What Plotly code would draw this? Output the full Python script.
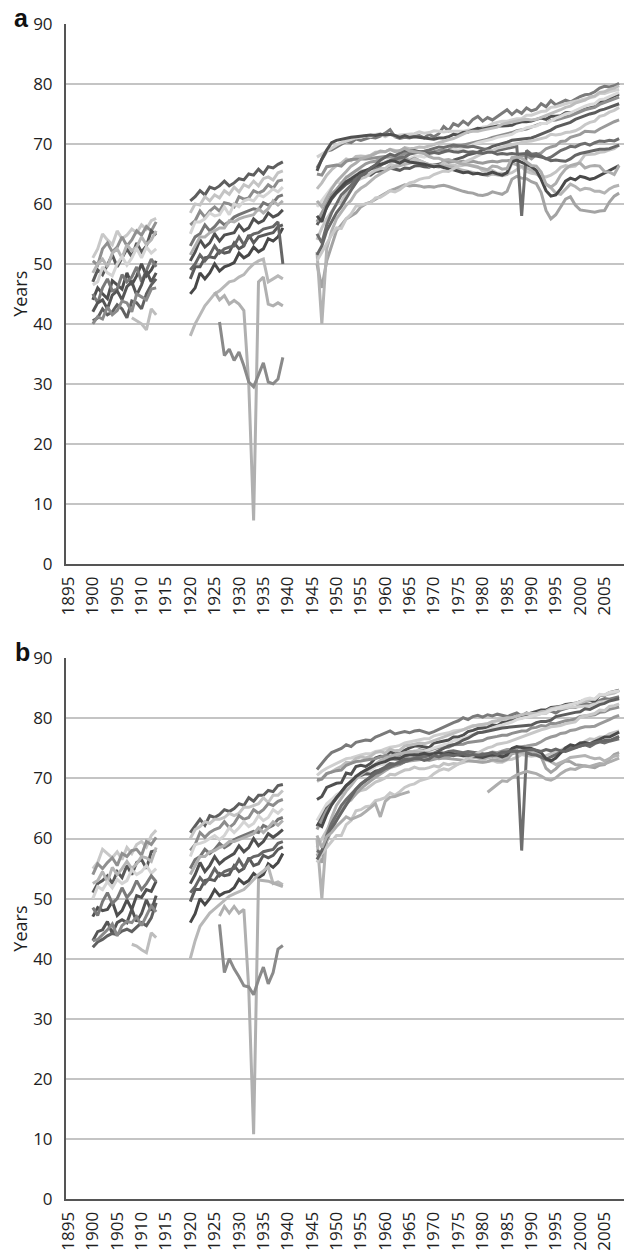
import plotly.graph_objects as go

N = None
years_1900s = list(range(1900, 1914))
years_1920s = list(range(1920, 1940))
years_postwar = list(range(1946, 2009))
tick_years = list(range(1895, 2006, 5))
y_ticks = list(range(0, 91, 10))

# ---------------- Panel a (males) / Panel b (females) ----------------
male_1900s = [
    [51.0, 52.5, 55.0, 54.0, 53.2, 55.5, 54.2, 54.8, 55.8, 55.2, 56.5, 55.8, 57.2, 57.6],
    [50.5, 49.8, 52.5, 53.5, 52.0, 52.8, 54.5, 53.0, 54.0, 55.5, 54.8, 56.2, 55.5, 57.0],
    [47.0, 49.0, 48.2, 50.0, 51.5, 49.5, 51.0, 52.5, 51.2, 53.5, 52.0, 53.0, 55.5, 54.8],
    [48.5, 50.0, 50.8, 49.5, 51.8, 52.5, 51.0, 53.2, 52.2, 52.8, 54.5, 53.2, 54.0, 55.5],
    [46.5, 47.0, 49.5, 48.5, 48.0, 50.0, 51.2, 49.8, 51.0, 52.6, 51.0, 52.8, 51.8, 52.5],
    [44.0, 46.0, 45.0, 44.2, 47.2, 46.5, 45.8, 48.5, 46.5, 48.0, 50.0, 48.0, 49.0, 50.5],
    [45.0, 43.5, 46.0, 47.5, 45.5, 45.8, 48.2, 47.0, 47.8, 49.5, 47.0, 48.8, 50.8, 49.5],
    [42.0, 43.5, 44.0, 42.5, 44.8, 45.5, 44.0, 46.2, 47.0, 44.8, 46.5, 48.8, 47.0, 48.5],
    [40.5, 41.0, 42.5, 41.5, 42.0, 43.2, 42.5, 41.0, 43.8, 43.5, 42.5, 45.0, 46.5, 47.5],
    [40.0, 41.2, 40.8, 42.8, 41.5, 42.2, 43.8, 43.5, 42.0, 45.0, 44.5, 44.0, 45.8, 46.0],
    [N, N, N, N, N, N, N, N, 41.0, 40.5, 40.0, 39.0, 42.5, 41.5],
]
female_1900s = [
    [55.0, 56.0, 58.2, 57.5, 56.8, 57.8, 56.5, 58.5, 57.5, 59.0, 59.5, 58.6, 60.5, 61.4],
    [54.0, 55.8, 55.0, 56.0, 56.8, 55.5, 57.5, 57.0, 58.0, 58.2, 57.2, 59.5, 59.0, 60.2],
    [51.0, 52.5, 53.0, 53.8, 52.5, 54.5, 53.5, 55.5, 54.0, 56.0, 56.5, 55.0, 57.8, 58.0],
    [52.5, 53.0, 54.5, 52.8, 55.2, 54.0, 55.0, 56.2, 55.0, 55.8, 57.0, 56.8, 56.2, 58.5],
    [50.0, 52.0, 51.5, 52.8, 51.8, 53.2, 52.5, 53.0, 54.8, 54.0, 54.5, 55.5, 54.2, 55.0],
    [47.0, 48.5, 48.0, 48.2, 49.5, 47.2, 48.0, 49.8, 48.2, 50.5, 50.2, 51.5, 51.2, 52.9],
    [48.5, 47.2, 49.5, 51.0, 49.2, 50.0, 51.8, 50.2, 51.2, 53.0, 51.5, 52.5, 53.8, 52.8],
    [43.0, 44.5, 44.8, 46.2, 44.2, 46.0, 46.5, 46.0, 48.2, 46.2, 47.5, 49.8, 48.0, 50.5],
    [41.9, 42.8, 43.2, 43.8, 44.2, 44.0, 44.6, 44.9, 44.5, 45.2, 46.0, 45.5, 46.8, 49.3],
    [43.0, 43.2, 44.0, 44.8, 45.8, 43.8, 45.5, 46.2, 46.0, 47.0, 45.5, 47.2, 48.8, 47.8],
    [N, N, N, N, N, N, N, N, 42.4, 42.1, 41.5, 41.0, 44.3, 43.5],
]
colors_1900s = ["#c8c8c8", "#909090", "#5a5a5a", "#b5b5b5", "#d4d4d4", "#4f4f4f",
                "#7a7a7a", "#555555", "#606060", "#8a8a8a", "#bdbdbd"]

male_1920s = [
    [60.5, 61.2, 62.2, 61.5, 62.8, 62.5, 63.0, 63.8, 63.0, 63.5, 64.2, 64.0, 65.0, 64.8, 65.8, 65.0, 66.2, 66.0, 66.6, 67.0],
    [58.5, 60.0, 59.8, 61.2, 60.5, 61.5, 61.0, 62.2, 61.6, 62.8, 62.0, 63.2, 62.8, 63.8, 63.0, 64.2, 64.5, 64.0, 65.2, 65.5],
    [56.5, 57.2, 58.8, 57.8, 58.8, 59.5, 58.8, 60.2, 60.0, 59.5, 61.2, 60.8, 61.0, 62.2, 61.8, 62.2, 63.2, 62.6, 63.8, 64.0],
    [55.0, 57.0, 57.0, 57.5, 58.5, 58.0, 58.2, 59.5, 58.2, 60.0, 59.5, 60.5, 60.8, 60.5, 61.5, 61.2, 61.8, 62.5, 62.0, 62.8],
    [50.5, 52.0, 54.0, 52.8, 53.5, 55.0, 53.8, 54.8, 55.0, 55.2, 56.5, 55.5, 56.0, 57.5, 56.8, 57.2, 58.5, 57.8, 58.2, 59.0],
    [53.0, 54.5, 55.0, 56.5, 55.5, 56.2, 57.2, 56.5, 57.0, 57.8, 58.2, 58.5, 58.8, 59.2, 59.0, 60.2, 59.8, 60.2, 61.2, 61.5],
    [51.5, 53.0, 54.5, 54.5, 55.2, 55.5, 56.0, 56.0, 57.2, 57.0, 57.5, 57.8, 58.0, 58.2, 59.2, 58.5, 59.2, 60.5, 59.8, 60.5],
    [47.5, 49.5, 49.5, 51.0, 51.2, 51.0, 52.2, 51.8, 52.0, 53.5, 52.5, 53.0, 54.8, 53.5, 54.5, 54.8, 55.0, 55.2, 56.2, 56.5],
    [45.0, 46.0, 48.5, 47.5, 48.5, 50.0, 48.8, 49.5, 49.8, 50.2, 51.8, 51.0, 51.5, 52.8, 52.0, 52.5, 54.2, 53.8, 54.5, 56.0],
    [49.0, 50.0, 51.5, 50.5, 51.5, 53.0, 51.8, 52.5, 52.8, 53.0, 54.5, 53.2, 54.5, 55.0, 55.2, 55.8, 56.0, 56.2, 57.0, 50.0],
    [38.0, 40.0, 41.5, 43.0, 44.0, 45.0, 45.5, 46.3, 47.0, 47.2, 47.8, 48.2, 49.2, 50.0, 50.5, 50.8, 47.0, 47.5, 48.0, 47.5],
    [N, N, N, N, N, 45.3, 44.0, 44.7, 43.3, 43.9, 43.3, 42.2, 30.0, 7.2, 47.0, 47.8, 43.3, 43.0, 43.5, 43.0],
    [N, N, N, N, N, N, 40.3, 34.7, 35.8, 33.9, 35.3, 33.0, 30.3, 29.5, 31.5, 33.5, 30.3, 30.0, 30.8, 34.4],
]
female_1920s = [
    [61.0, 62.2, 63.2, 62.2, 63.8, 63.5, 64.0, 64.8, 64.5, 65.0, 65.8, 65.5, 66.8, 66.2, 67.2, 67.2, 68.0, 67.8, 68.8, 69.0],
    [60.0, 61.5, 62.0, 62.8, 62.5, 63.2, 63.2, 63.5, 64.2, 63.8, 64.2, 65.2, 65.2, 65.5, 65.8, 66.8, 66.0, 67.2, 67.2, 68.0],
    [58.0, 59.0, 61.0, 60.2, 61.0, 61.5, 61.8, 62.8, 61.8, 62.5, 63.8, 63.2, 63.5, 64.8, 64.2, 64.8, 65.8, 65.5, 66.2, 66.5],
    [57.0, 59.0, 59.2, 59.5, 60.0, 60.5, 59.8, 60.5, 61.8, 61.0, 61.8, 62.8, 62.0, 62.5, 63.8, 63.0, 63.5, 64.8, 64.2, 65.0],
    [52.5, 54.0, 56.0, 54.5, 55.5, 57.0, 55.8, 56.5, 57.0, 57.5, 58.8, 57.8, 58.5, 60.0, 58.8, 59.5, 60.8, 60.2, 60.8, 61.5],
    [55.0, 56.5, 57.0, 58.2, 57.5, 58.2, 59.2, 58.5, 59.0, 59.8, 60.2, 60.5, 60.8, 61.2, 61.0, 62.2, 61.8, 62.2, 63.2, 63.5],
    [54.0, 55.5, 57.0, 57.0, 57.8, 58.0, 58.5, 58.8, 59.5, 59.5, 59.8, 60.2, 60.5, 60.8, 61.8, 61.0, 61.8, 62.8, 62.2, 63.0],
    [49.5, 51.5, 51.5, 53.0, 53.2, 53.0, 54.2, 53.8, 54.0, 55.5, 54.5, 55.0, 56.8, 55.5, 55.8, 57.2, 56.8, 57.2, 58.2, 58.6],
    [46.0, 47.5, 50.0, 49.0, 50.0, 51.5, 50.5, 51.0, 51.2, 51.8, 53.2, 52.5, 53.0, 54.2, 53.5, 54.0, 55.8, 55.2, 56.0, 57.5],
    [51.0, 52.0, 53.5, 52.5, 53.5, 55.0, 53.8, 54.5, 54.8, 55.0, 56.5, 55.2, 56.5, 57.0, 57.2, 57.8, 58.0, 58.2, 59.2, 59.5],
    [40.0, 43.0, 45.4, 46.5, 47.6, 48.3, 49.0, 49.7, 50.4, 50.8, 51.2, 51.5, 52.3, 53.1, 54.0, 54.6, 55.3, 52.5, 52.8, 52.3],
    [N, N, N, N, N, N, 47.1, 48.7, 47.6, 48.7, 47.6, 48.2, 35.0, 10.8, 53.1, 53.0, 52.9, 52.6, 52.3, 52.0],
    [N, N, N, N, N, N, 45.7, 37.7, 40.0, 38.3, 37.0, 35.5, 35.3, 34.0, 36.5, 38.6, 35.8, 37.7, 41.6, 42.2],
]
colors_1920s = ["#5e5e5e", "#c4c4c4", "#8c8c8c", "#d4d4d4", "#505050", "#757575", "#b0b0b0",
                "#5a5a5a", "#484848", "#666666", "#b8b8b8", "#b0b0b0", "#8a8a8a"]

male_postwar = [
    [66.0, 67.5, 68.8, 69.0, 69.5, 70.0, 70.4, 70.2, 70.8, 70.6,
     70.9, 71.1, 71.0, 71.3, 71.8, 72.4, 71.2, 70.9, 71.1, 71.0,
     71.3, 71.4, 71.0, 71.6, 71.2, 71.7, 72.9, 72.2, 73.4, 73.0,
     73.8, 73.2, 74.1, 74.6, 73.8, 74.4, 74.0, 74.6, 75.1, 75.7,
     74.9, 75.6, 75.1, 76.0, 75.5, 75.8, 76.7, 76.2, 77.2, 76.5,
     76.9, 77.3, 77.0, 77.5, 77.9, 78.2, 78.3, 78.7, 79.3, 79.6,
     79.5, 79.7, 80.1],
    [67.8, 68.3, 68.9, 69.4, 69.8, 70.2, 70.5, 70.7, 71.0, 71.2,
     71.4, 71.2, 71.6, 71.7, 71.2, 71.6, 71.3, 71.5, 71.6, 71.6,
     71.7, 72.0, 71.8, 71.9, 72.2, 72.1, 72.0, 72.1, 72.1, 72.1,
     72.1, 72.3, 72.4, 72.5, 72.8, 72.9, 73.4, 73.6, 73.8, 73.8,
     74.0, 74.2, 74.2, 74.8, 74.8, 75.1, 75.4, 75.5, 76.1, 76.2,
     76.5, 76.7, 76.9, 77.1, 77.4, 77.5, 77.7, 77.9, 78.4, 78.4,
     78.7, 78.9, 79.1],
    [65.5, 67.5, 69.0, 70.2, 70.6, 70.8, 71.0, 71.1, 71.2, 71.3,
     71.4, 71.5, 71.4, 71.6, 71.5, 71.6, 71.4, 71.1, 71.4, 71.1,
     71.2, 71.1, 71.0, 70.9, 70.8, 71.0, 71.0, 71.2, 71.6, 71.5,
     71.9, 72.0, 72.3, 72.6, 72.5, 72.7, 72.8, 73.0, 73.0, 73.1,
     73.1, 73.5, 73.7, 73.7, 73.8, 74.1, 74.3, 74.1, 74.6, 74.6,
     74.7, 75.2, 75.2, 75.3, 75.6, 75.8, 76.0, 76.2, 76.9, 77.2,
     77.6, 78.0, 78.3],
    [62.5, 63.5, 64.8, 65.7, 66.4, 66.8, 67.5, 67.2, 67.9, 68.0,
     67.9, 68.1, 68.6, 68.7, 68.7, 69.1, 68.9, 68.7, 69.4, 69.2,
     69.3, 69.5, 69.4, 69.6, 69.9, 70.2, 70.5, 70.7, 70.9, 71.3,
     71.6, 72.0, 72.1, 72.1, 72.3, 72.5, 72.7, 72.8, 73.3, 73.5,
     73.6, 73.9, 74.0, 74.1, 74.0, 74.1, 74.4, 74.8, 75.1, 75.3,
     75.7, 76.1, 76.3, 76.8, 77.0, 77.3, 77.8, 78.0, 78.6, 78.7,
     79.1, 79.3, 79.7],
    [65.0, 64.8, 66.2, 66.4, 66.5, 66.3, 67.1, 67.4, 67.5, 67.5,
     67.5, 67.6, 67.7, 67.9, 67.9, 67.8, 67.9, 67.9, 68.4, 68.5,
     68.5, 68.7, 68.6, 68.6, 68.7, 68.9, 69.0, 69.0, 69.4, 69.6,
     69.7, 70.0, 70.1, 70.3, 70.5, 70.8, 71.1, 71.3, 71.4, 71.6,
     71.9, 72.2, 72.3, 72.5, 72.8, 73.1, 73.4, 73.4, 73.9, 74.0,
     74.2, 74.5, 74.7, 75.0, 75.4, 75.7, 75.9, 76.1, 76.6, 76.9,
     77.2, 77.5, 77.8],
    [59.5, 60.6, 61.8, 62.7, 63.6, 63.5, 64.5, 64.4, 65.5, 65.7,
     65.4, 65.9, 66.5, 66.7, 67.0, 67.4, 67.2, 67.1, 67.7, 67.5,
     67.9, 68.0, 67.8, 68.1, 68.5, 68.5, 68.6, 68.8, 69.1, 69.0,
     69.2, 69.6, 69.9, 70.2, 70.4, 70.5, 70.8, 71.1, 71.3, 71.4,
     71.6, 72.1, 72.3, 72.7, 72.9, 73.0, 73.4, 73.4, 73.8, 74.3,
     74.6, 75.0, 75.2, 75.6, 75.9, 76.3, 76.6, 76.7, 77.4, 77.5,
     77.9, 78.3, 78.6],
    [56.5, 58.0, 59.5, 60.8, 61.8, 62.5, 63.3, 63.8, 64.2, 64.6,
     64.9, 64.8, 65.4, 65.5, 65.6, 66.0, 65.8, 65.6, 66.0, 65.9,
     66.3, 66.4, 66.2, 66.1, 66.5, 66.6, 66.9, 67.2, 67.3, 67.5,
     67.8, 68.2, 68.4, 68.6, 69.0, 69.2, 69.6, 69.8, 70.0, 70.3,
     70.6, 70.7, 70.9, 71.0, 71.0, 71.3, 71.6, 71.9, 72.3, 72.8,
     73.1, 73.3, 73.6, 74.1, 74.4, 74.8, 75.0, 75.2, 75.6, 75.8,
     76.1, 76.4, 76.7],
    [57.0, 58.5, 60.2, 61.6, 62.4, 63.5, 64.4, 65.0, 65.6, 66.1,
     66.7, 67.0, 67.1, 67.5, 67.8, 67.9, 67.5, 67.4, 67.6, 67.2,
     67.6, 67.2, 66.9, 66.6, 66.2, 66.4, 67.0, 66.9, 67.1, 67.0,
     67.1, 67.0, 67.1, 66.9, 66.8, 67.0, 67.1, 67.0, 67.2, 67.2,
     67.3, 67.8, 68.0, 68.1, 67.5, 68.2, 68.5, 69.2, 69.5, 69.7,
     70.4, 70.5, 71.1, 71.4, 71.6, 72.1, 72.1, 72.0, 72.5, 72.9,
     73.4, 73.7, 74.0],
    [54.0, 56.0, 57.5, 58.8, 59.9, 60.3, 62.0, 62.4, 63.8, 64.2,
     64.5, 65.1, 65.6, 65.9, 65.9, 66.6, 66.4, 66.8, 67.1, 67.0,
     67.5, 67.2, 66.9, 66.3, 66.3, 66.1, 66.9, 66.4, 66.5, 66.3,
     66.5, 66.6, 66.4, 66.2, 65.5, 65.4, 65.6, 65.1, 65.1, 65.0,
     65.2, 65.7, 66.2, 65.4, 65.1, 65.0, 64.6, 64.5, 64.8, 65.3,
     66.1, 66.4, 66.2, 66.3, 67.1, 68.2, 68.3, 68.3, 68.6, 68.7,
     69.0, 69.2, 69.8],
    [50.0, 46.0, 50.5, 53.0, 55.5, 56.5, 57.5, 58.0, 58.5, 59.5,
     60.0, 60.3, 60.8, 61.3, 61.8, 62.2, 62.5, 62.8, 63.2, 63.0,
     63.1, 63.0, 62.8, 62.9, 62.8, 63.0, 63.1, 62.9, 62.6, 62.3,
     62.1, 61.9, 61.8, 61.5, 61.4, 61.6, 62.0, 61.8, 61.6, 62.1,
     64.1, 64.6, 64.3, 64.2, 63.7, 63.4, 61.9, 58.9, 57.5, 58.2,
     59.6, 60.8, 61.2, 59.8, 59.0, 58.9, 58.8, 58.6, 58.8, 58.9,
     60.3, 61.3, 61.8],
    [52.0, 40.0, 52.5, 55.5, 57.5, 58.7, 59.8, 60.6, 61.9, 62.6,
     63.1, 63.8, 64.5, 65.0, 65.5, 65.9, 66.2, 66.4, 66.7, 66.9,
     67.0, 66.8, 66.7, 66.6, 66.5, 66.4, 66.4, 66.2, 66.1, 65.8,
     65.6, 65.5, 65.3, 65.1, 64.8, 64.7, 65.0, 64.8, 64.7, 64.9,
     66.8, 66.5, 66.3, 66.0, 65.6, 65.1, 64.3, 63.3, 62.7, 61.8,
     61.6, 62.4, 63.3, 62.9, 62.3, 62.6, 62.5, 62.1, 62.1, 61.8,
     62.5, 62.9, 63.1],
    [55.0, 53.5, 56.5, 58.5, 60.0, 61.5, 62.3, 63.1, 64.2, 64.8,
     65.3, 65.8, 66.1, 66.4, 66.9, 67.2, 67.5, 67.7, 67.8, 68.3,
     68.5, 68.6, 68.8, 69.0, 69.3, 69.5, 69.4, 69.6, 69.8, 69.7,
     69.6, 69.5, 69.6, 69.4, 69.2, 69.0, 68.8, 68.9, 69.1, 69.2,
     69.4, 69.6, 58.0, 68.9, 68.3, 68.4, 68.0, 67.5, 67.8, 68.4,
     68.9, 69.2, 69.6, 69.5, 69.9, 70.1, 69.8, 70.2, 70.5, 70.4,
     70.6, 70.5, 70.9],
    [58.0, 57.0, 59.5, 61.0, 62.0, 62.8, 63.7, 64.2, 64.8, 65.3,
     65.6, 65.9, 66.4, 66.6, 66.8, 67.2, 67.1, 66.8, 67.3, 67.0,
     66.9, 66.7, 66.6, 66.4, 66.2, 66.3, 66.0, 65.8, 65.7, 65.5,
     65.2, 65.3, 65.0, 65.1, 64.9, 65.0, 65.3, 65.0, 64.8, 65.2,
     67.0, 67.3, 66.9, 66.6, 66.2, 65.6, 64.1, 62.2, 61.3, 61.5,
     62.5, 63.8, 64.3, 64.0, 64.6, 64.4, 64.1, 64.3, 64.7, 65.2,
     65.5, 65.9, 66.4],
    [50.5, 52.0, 53.5, 54.8, 56.0, 55.9, 57.5, 58.3, 59.6, 59.8,
     60.1, 60.2, 61.0, 61.1, 61.6, 62.2, 62.0, 62.4, 63.0, 63.5,
     63.7, 64.1, 64.3, 64.4, 64.9, 65.2, 65.5, 65.4, 65.8, 66.3,
     66.9, 67.2, 67.6, 68.0, 68.4, 68.8, 68.9, 69.3, 69.5, 69.7,
     69.9, 70.1, 70.3, 70.4, 70.5, 70.7, 70.8, 71.1, 71.6, 71.5,
     71.6, 71.9, 72.0, 72.2, 72.6, 73.2, 73.6, 73.8, 74.6, 74.8,
     75.3, 75.6, 76.1],
    [51.5, 53.0, 55.5, 57.0, 58.5, 59.6, 61.0, 62.3, 63.5, 64.7,
     65.2, 66.0, 66.5, 67.3, 67.8, 68.3, 68.0, 68.5, 68.9, 68.8,
     68.9, 68.7, 68.5, 68.4, 68.6, 68.4, 68.7, 68.9, 68.7, 68.6,
     68.8, 68.6, 68.7, 68.5, 68.4, 68.6, 68.6, 68.3, 68.4, 68.3,
     68.4, 68.3, 68.4, 68.4, 68.0, 68.0, 67.8, 67.6, 67.2, 67.3,
     67.2, 67.1, 67.5, 68.1, 68.4, 68.6, 68.8, 68.9, 69.1, 69.1,
     69.2, 69.5, 69.8],
    [60.5, 59.5, 61.0, 62.5, 63.7, 64.5, 65.4, 66.3, 66.8, 67.5,
     67.7, 68.0, 68.4, 68.8, 68.7, 69.1, 68.7, 68.9, 69.3, 68.8,
     68.7, 68.5, 68.4, 67.9, 67.6, 67.6, 67.3, 67.4, 67.1, 66.8,
     66.6, 66.5, 66.3, 66.0, 65.8, 65.7, 66.3, 66.2, 65.8, 65.9,
     67.7, 67.8, 67.6, 67.0, 66.4, 66.3, 65.3, 63.3, 62.8, 63.4,
     64.8, 65.8, 66.4, 66.6, 66.8, 66.0, 66.3, 66.4, 66.3, 65.4,
     65.3, 64.9, 66.4],
]

female_postwar = [
    [71.5, 72.5, 73.5, 74.3, 74.6, 75.0, 75.6, 75.3, 76.0, 76.2,
     76.4, 76.3, 76.9, 77.2, 77.5, 77.9, 77.4, 77.6, 77.8, 77.6,
     77.9, 78.0, 77.8, 77.5, 77.8, 78.2, 78.6, 79.0, 79.3, 79.6,
     80.1, 79.8, 80.3, 80.5, 80.2, 80.6, 80.4, 80.7, 80.5, 80.3,
     80.6, 80.9, 80.4, 80.9, 80.6, 80.9, 81.0, 81.3, 81.2, 80.9,
     81.4, 81.6, 81.9, 81.8, 82.1, 82.5, 82.3, 82.6, 83.0, 83.3,
     83.2, 83.4, 83.6],
    [70.5, 71.2, 71.7, 72.1, 72.5, 73.0, 73.3, 73.4, 73.7, 73.9,
     74.1, 74.1, 74.5, 74.6, 74.9, 75.2, 75.3, 75.5, 75.9, 76.1,
     76.2, 76.5, 76.6, 76.6, 77.1, 77.3, 77.4, 77.6, 77.9, 78.0,
     78.1, 78.5, 78.8, 78.8, 78.9, 79.1, 79.4, 79.6, 79.6, 79.7,
     80.0, 80.1, 80.0, 80.6, 80.4, 80.5, 80.8, 80.8, 81.4, 81.6,
     81.6, 81.8, 81.9, 81.9, 82.0, 82.1, 82.1, 82.4, 82.7, 82.8,
     82.9, 83.0, 83.2],
    [66.5, 67.0, 68.5, 68.9, 69.2, 69.3, 70.9, 70.7, 72.0, 72.2,
     72.0, 72.5, 73.4, 73.7, 73.6, 74.5, 74.1, 74.1, 74.7, 75.1,
     75.4, 75.4, 75.3, 75.1, 75.9, 76.1, 76.3, 76.4, 76.9, 76.9,
     77.2, 77.8, 78.0, 78.3, 78.4, 78.5, 78.9, 78.8, 79.3, 79.4,
     79.7, 80.3, 80.5, 80.6, 80.9, 81.1, 81.4, 81.4, 81.8, 81.9,
     82.0, 82.3, 82.4, 82.5, 82.8, 83.0, 83.0, 82.9, 83.8, 83.8,
     84.3, 84.5, 84.7],
    [69.5, 70.0, 70.8, 71.1, 71.6, 72.0, 72.7, 72.6, 73.3, 73.6,
     73.4, 73.7, 74.3, 74.5, 74.2, 74.9, 74.6, 74.7, 75.4, 75.5,
     75.7, 75.9, 75.8, 76.0, 76.3, 76.6, 76.9, 77.2, 77.5, 77.9,
     78.1, 78.5, 78.7, 78.9, 79.0, 79.1, 79.5, 79.6, 79.9, 80.1,
     80.1, 80.4, 80.6, 80.8, 80.8, 80.8, 81.1, 81.2, 81.6, 81.8,
     81.9, 82.1, 82.3, 82.5, 82.6, 82.9, 83.1, 83.2, 83.8, 83.9,
     84.1, 84.2, 84.6],
    [69.8, 69.9, 70.8, 71.1, 71.3, 71.4, 72.2, 72.5, 72.8, 72.9,
     73.1, 73.2, 73.3, 73.6, 73.8, 73.7, 73.9, 73.8, 74.3, 74.4,
     74.4, 74.8, 74.6, 74.7, 75.0, 75.2, 75.2, 75.2, 75.6, 75.7,
     75.7, 76.0, 76.1, 76.2, 76.3, 76.7, 76.8, 77.0, 77.2, 77.2,
     77.5, 77.7, 77.9, 77.9, 78.4, 78.5, 78.8, 78.7, 79.2, 79.1,
     79.4, 79.6, 79.7, 79.9, 80.3, 80.4, 80.5, 80.6, 81.0, 81.1,
     81.5, 81.7, 81.9],
    [63.0, 64.3, 65.8, 66.5, 67.3, 67.8, 68.9, 69.2, 70.5, 70.8,
     70.9, 71.4, 72.0, 72.3, 72.4, 73.3, 73.2, 73.3, 74.0, 74.0,
     74.6, 74.6, 74.5, 74.8, 75.1, 75.3, 75.6, 75.8, 76.3, 76.4,
     76.7, 77.1, 77.4, 77.6, 77.8, 78.1, 78.5, 78.7, 78.9, 79.1,
     79.4, 79.8, 80.0, 80.3, 80.4, 80.6, 80.9, 81.0, 81.4, 81.6,
     81.8, 82.0, 82.2, 82.5, 82.8, 83.2, 83.4, 83.2, 84.0, 83.9,
     84.3, 84.4, 84.6],
    [62.0, 63.5, 65.0, 65.8, 66.8, 67.6, 68.8, 69.4, 70.3, 70.5,
     70.8, 70.7, 71.2, 71.4, 71.7, 72.2, 72.2, 72.4, 72.8, 73.0,
     73.5, 73.6, 73.5, 73.8, 74.2, 74.6, 75.1, 75.4, 75.6, 75.9,
     76.4, 76.7, 77.2, 77.6, 77.7, 77.9, 78.0, 78.3, 78.4, 78.5,
     78.6, 78.6, 78.7, 78.9, 78.9, 79.3, 79.5, 79.5, 79.7, 80.3,
     80.5, 80.7, 80.8, 81.0, 81.1, 81.6, 81.5, 81.9, 82.3, 82.5,
     82.9, 83.1, 83.3],
    [61.5, 63.0, 64.7, 65.7, 66.6, 67.6, 68.7, 69.6, 70.2, 70.9,
     71.4, 71.8, 72.3, 72.7, 73.1, 73.3, 73.1, 73.0, 73.6, 73.3,
     73.5, 73.4, 73.2, 73.0, 73.2, 73.4, 73.8, 73.6, 74.0, 74.1,
     74.2, 74.1, 74.3, 74.1, 73.9, 74.1, 74.4, 74.3, 74.6, 74.8,
     74.8, 75.1, 75.3, 75.4, 75.5, 75.7, 76.1, 76.6, 76.9, 77.1,
     77.5, 77.6, 78.0, 78.1, 78.4, 78.6, 78.6, 78.7, 79.1, 79.4,
     79.8, 80.2, 80.5],
    [58.5, 60.0, 61.5, 62.8, 64.0, 64.5, 66.0, 66.4, 67.6, 68.0,
     68.2, 68.8, 69.4, 69.7, 70.1, 70.7, 70.6, 71.0, 71.4, 71.5,
     71.9, 71.6, 71.6, 71.8, 72.1, 71.9, 72.5, 72.3, 72.5, 72.4,
     72.6, 72.9, 72.9, 72.8, 72.7, 72.8, 73.0, 72.7, 72.7, 73.1,
     73.2, 73.5, 74.0, 73.8, 73.7, 73.8, 73.7, 73.8, 74.2, 74.5,
     74.7, 75.1, 75.2, 75.2, 75.6, 76.2, 76.6, 76.5, 76.9, 76.9,
     77.4, 77.6, 77.9],
    [57.5, 56.0, 59.5, 61.5, 63.0, 64.5, 65.7, 66.5, 67.4, 68.3,
     69.0, 69.6, 70.2, 70.8, 71.3, 71.8, 72.1, 72.3, 72.8, 72.9,
     73.1, 73.2, 73.3, 73.4, 73.4, 73.3, 73.4, 73.3, 73.2, 73.1,
     73.0, 73.0, 72.9, 72.8, 72.7, 72.8, 73.1, 73.0, 72.9, 73.2,
     74.1, 74.3, 74.4, 74.2, 74.2, 74.1, 73.6, 71.7, 71.0, 71.6,
     72.4, 72.9, 72.8, 72.3, 72.2, 72.1, 71.9, 71.8, 72.2, 72.3,
     73.2, 74.0, 74.3],
    [60.0, 50.0, 61.0, 63.5, 65.5, 66.8, 67.9, 68.8, 69.9, 70.6,
     71.2, 71.9, 72.5, 73.0, 73.4, 73.7, 73.9, 74.1, 74.3, 74.4,
     74.5, 74.4, 74.3, 74.3, 74.2, 74.3, 74.2, 74.1, 74.0, 73.8,
     73.7, 73.6, 73.5, 73.4, 73.2, 73.4, 73.6, 73.5, 73.4, 73.6,
     74.4, 74.3, 74.3, 74.2, 74.4, 74.1, 73.9, 73.1, 72.8, 72.3,
     72.6, 73.0, 73.5, 73.6, 73.6, 73.8, 73.5, 73.3, 73.4, 72.9,
     73.3, 73.7, 73.9],
    [58.0, 57.5, 60.5, 62.5, 64.0, 65.5, 66.5, 67.4, 68.3, 69.1,
     69.7, 70.2, 70.8, 71.1, 71.6, 71.9, 72.3, 72.5, 72.8, 73.1,
     73.3, 73.6, 73.7, 73.9, 74.1, 74.3, 74.2, 74.5, 74.6, 74.4,
     74.3, 74.5, 74.4, 74.2, 74.1, 74.0, 73.8, 74.0, 74.2, 74.3,
     74.5, 74.6, 58.0, 74.3, 74.0, 73.9, 73.6, 73.2, 73.6, 74.0,
     74.4, 74.8, 75.1, 75.2, 75.4, 75.6, 75.3, 75.8, 76.1, 75.9,
     76.2, 76.4, 76.6],
    [62.5, 62.0, 64.0, 65.6, 66.8, 67.8, 68.8, 69.5, 70.3, 70.9,
     71.4, 71.8, 72.3, 72.6, 72.8, 73.2, 73.4, 73.3, 73.8, 73.9,
     73.9, 74.0, 74.2, 74.0, 74.1, 74.3, 74.0, 74.2, 74.1, 74.0,
     73.8, 73.9, 73.7, 73.6, 73.5, 73.8, 74.0, 73.9, 73.6, 73.9,
     75.0, 75.3, 75.1, 75.0, 75.0, 74.7, 74.3, 73.3, 72.9, 73.4,
     74.3, 75.1, 75.6, 75.4, 75.9, 76.0, 75.8, 76.1, 76.5, 76.9,
     76.9, 77.3, 77.7],
    [56.0, 57.5, 58.5, 59.5, 60.5, 60.5, 62.3, 63.0, 64.6, 64.8,
     65.3, 65.4, 66.3, 66.5, 66.8, 67.6, 67.2, 67.8, 68.5, 68.9,
     69.1, 69.6, 69.8, 70.1, 70.8, 71.3, 71.6, 71.4, 71.9, 72.4,
     73.0, 73.4, 73.8, 74.3, 74.7, 75.1, 75.3, 75.7, 75.8, 76.0,
     76.3, 76.6, 76.9, 77.2, 77.6, 77.9, 78.1, 78.3, 78.6, 78.7,
     78.8, 79.1, 79.2, 79.4, 80.2, 80.4, 80.6, 80.8, 81.4, 81.3,
     82.0, 82.1, 82.4],
    [56.5, 58.0, 60.0, 61.7, 63.0, 64.3, 65.8, 67.0, 68.2, 69.0,
     69.6, 70.3, 70.9, 71.5, 71.9, 72.5, 72.4, 72.8, 73.2, 73.1,
     73.3, 73.3, 73.0, 73.2, 73.8, 73.6, 73.9, 74.0, 73.8, 74.0,
     74.1, 73.8, 74.0, 73.9, 73.9, 74.1, 74.3, 74.0, 74.4, 74.4,
     74.6, 74.5, 74.6, 74.7, 74.8, 74.7, 74.5, 74.8, 74.6, 74.9,
     74.6, 74.5, 74.8, 75.2, 75.4, 75.6, 75.8, 75.9, 76.2, 76.3,
     76.3, 76.7, 77.0],
    [60.5, 58.5, 60.3, 61.0, 62.0, 62.8, 63.6, 63.2, 63.6, 63.9,
     64.5, 65.1, 65.8, 63.6, 66.2, 66.9, 67.0, 67.3, 67.5, 67.8,
     N, N, N, N, N, N, N, N, N, N,
     N, N, N, N, N, 67.7, 68.4, 69.0, 69.6, 69.5,
     70.1, 70.6, 70.9, 71.2, 71.0, 70.8, 70.4, 69.9, 69.7, 70.1,
     70.8, 71.3, 71.6, 71.5, 71.9, 72.1, 72.0, 72.2, 72.5, 72.4,
     72.7, 73.1, 73.4],
]
colors_postwar = ["#7a7a7a", "#cfcfcf", "#505050", "#bdbdbd", "#8f8f8f", "#d9d9d9",
                  "#5c5c5c", "#9a9a9a", "#c4c4c4", "#a3a3a3", "#b3b3b3", "#6e6e6e",
                  "#4a4a4a", "#c8c8c8", "#666666", "#adadad"]

# ---------------- Figure ----------------
fig = go.Figure()


def add_group(series, years, colors, xa, ya):
    for vals, col in zip(series, colors):
        fig.add_trace(go.Scatter(
            x=years, y=vals, mode="lines", connectgaps=False,
            line=dict(color=col, width=3),
            xaxis=xa, yaxis=ya, showlegend=False, hoverinfo="skip"))


add_group(male_1900s, years_1900s, colors_1900s, "x", "y")
add_group(male_1920s, years_1920s, colors_1920s, "x", "y")
add_group(male_postwar, years_postwar, colors_postwar, "x", "y")
add_group(female_1900s, years_1900s, colors_1900s, "x2", "y2")
add_group(female_1920s, years_1920s, colors_1920s, "x2", "y2")
add_group(female_postwar, years_postwar, colors_postwar, "x2", "y2")

FONT = "Open Sans, Noto Sans, sans-serif"
tick_font = dict(family=FONT, size=17, color="#1e1e1e")

xcommon = dict(
    range=[1894.5, 2009.0], tickmode="array", tickvals=tick_years,
    ticktext=[str(t) for t in tick_years], tickangle=-90, tickfont=tick_font,
    showgrid=False, zeroline=False, showline=True, linecolor="#555555",
    linewidth=2, ticks="", ticklabelstandoff=4, domain=[0, 1],
)
ycommon = dict(
    range=[0, 90], tickmode="array", tickvals=y_ticks, tickfont=tick_font,
    showgrid=True, gridcolor="#c4c4c4", gridwidth=1.5, zeroline=False,
    showline=True, linecolor="#555555", linewidth=2, ticks="",
    ticklabelstandoff=8,
)

H = 1251
top, bottom = 24, 1204
plot_h = bottom - top
a_dom = [(bottom - 566) / plot_h, 1.0]
b_dom = [0.0, (bottom - 661) / plot_h]

fig.update_layout(
    width=624, height=H,
    margin=dict(l=66, r=0, t=top, b=H - bottom),
    paper_bgcolor="white", plot_bgcolor="white",
    xaxis=dict(anchor="y", **xcommon),
    yaxis=dict(anchor="x", domain=a_dom, **ycommon),
    xaxis2=dict(anchor="y2", **xcommon),
    yaxis2=dict(anchor="x2", domain=b_dom, **ycommon),
)

ann_font = dict(family=FONT, size=18, color="#1e1e1e")
for dom in (a_dom, b_dom):
    fig.add_annotation(text="Years", textangle=-90, xref="paper", yref="paper",
                       x=-(66 - 20) / 558, y=(dom[0] + dom[1]) / 2,
                       xanchor="center", yanchor="middle", showarrow=False,
                       font=ann_font)

label_font = dict(family="Arial, Liberation Sans, sans-serif", size=25, color="#111111")
fig.add_annotation(text="<b>a</b>", xref="paper", yref="paper",
                   x=-(66 - 21) / 558, y=1 + (24 - 18) / plot_h,
                   xanchor="center", yanchor="middle", showarrow=False, font=label_font)
fig.add_annotation(text="<b>b</b>", xref="paper", yref="paper",
                   x=-(66 - 22) / 558, y=(bottom - 655) / plot_h,
                   xanchor="center", yanchor="middle", showarrow=False, font=label_font)

fig.write_html("out.html")
